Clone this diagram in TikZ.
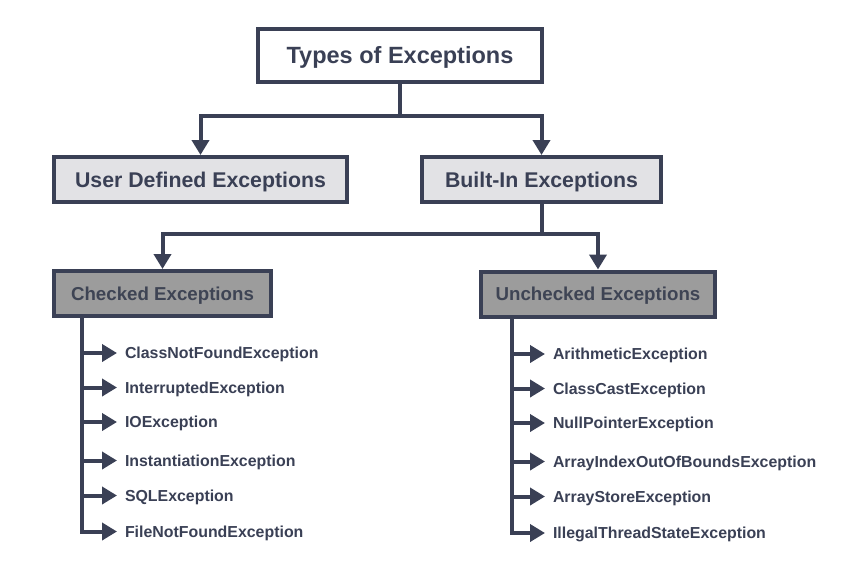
\documentclass[tikz,border=0pt]{standalone}
\usepackage{fontspec}
\setmainfont{Liberation Sans}
\usetikzlibrary{arrows.meta}
\definecolor{ink}{HTML}{3A4055}
\definecolor{lightfill}{HTML}{E2E2E5}
\definecolor{darkfill}{HTML}{9C9C9C}
\definecolor{dimink}{HTML}{3E4454}
\tikzset{
  x=1pt, y=-1pt,
  box/.style={draw=ink, line width=4pt, rectangle, inner sep=0pt, text=ink, font=\bfseries},
  topbox/.style={box, fill=white, minimum width=284pt, minimum height=53pt, font=\fontsize{23.5}{26}\bfseries, text height=16.8pt, text depth=0pt},
  midbox/.style={box, fill=lightfill, minimum height=45pt, font=\fontsize{21.3}{24}\bfseries, text height=15.3pt, text depth=0pt},
  lowbox/.style={box, fill=darkfill, text=dimink, minimum height=45pt, font=\fontsize{18.7}{22}\bfseries, text height=13.4pt, text depth=0pt},
  item/.style={anchor=west, inner xsep=8pt, inner ysep=0pt, outer sep=0pt, text=ink, font=\fontsize{15.9}{18}\bfseries, text height=11.4pt, text depth=0pt},
  conn/.style={draw=ink, line width=4pt, line join=miter},
  arr/.style={conn, -{Triangle[length=15pt, width=17pt]}},
}
\begin{document}
\begin{tikzpicture}
\useasboundingbox (0,0) rectangle (851,571);
\fill[white] (0,0) rectangle (851,571);

\node[topbox] (top) at (400,55.5) {Types of Exceptions};
\node[midbox, minimum width=293pt] (user) at (200.5,179.5) {User Defined Exceptions};
\node[midbox, minimum width=239pt] (built) at (541.5,179.5) {Built-In Exceptions};
\node[lowbox, minimum width=217pt] (checked) at (162.5,293.5) {Checked Exceptions};
\node[lowbox, minimum width=234pt] (unchecked) at (598,294) {Unchecked Exceptions};

\coordinate (j1) at (400,116);
\coordinate (j2) at (541.5,234);
\draw[conn] (top.south) -- (j1);
\draw[arr] (j1) -| (user.north);
\draw[arr] (j1) -| (built.north);
\draw[conn] (built.south) -- (j2);
\draw[arr] (j2) -| (checked.north);
\draw[arr] (j2) -| (unchecked.north);

% checked list
\node[item] (c1) at (117,353) {ClassNotFoundException};
\node[item] (c2) at (117,387.5) {InterruptedException};
\node[item] (c3) at (117,422) {IOException};
\node[item] (c4) at (117,460.5) {InstantiationException};
\node[item] (c5) at (117,495.5) {SQLException};
\node[item] (c6) at (117,531.5) {FileNotFoundException};
\coordinate (ls) at (82,316);
\draw[arr] (ls) |- (c6.west);
\foreach \i in {1,...,5} { \draw[arr] (ls |- c\i.west) -- (c\i.west); }

% unchecked list
\node[item] (u1) at (545,354) {ArithmeticException};
\node[item] (u2) at (545,388.5) {ClassCastException};
\node[item] (u3) at (545,423) {NullPointerException};
\node[item] (u4) at (545,461.5) {ArrayIndexOutOfBoundsException};
\node[item] (u5) at (545,496.5) {ArrayStoreException};
\node[item] (u6) at (545,533) {IllegalThreadStateException};
\coordinate (rs) at (512,316);
\draw[arr] (rs) |- (u6.west);
\foreach \i in {1,...,5} { \draw[arr] (rs |- u\i.west) -- (u\i.west); }
\end{tikzpicture}
\end{document}
